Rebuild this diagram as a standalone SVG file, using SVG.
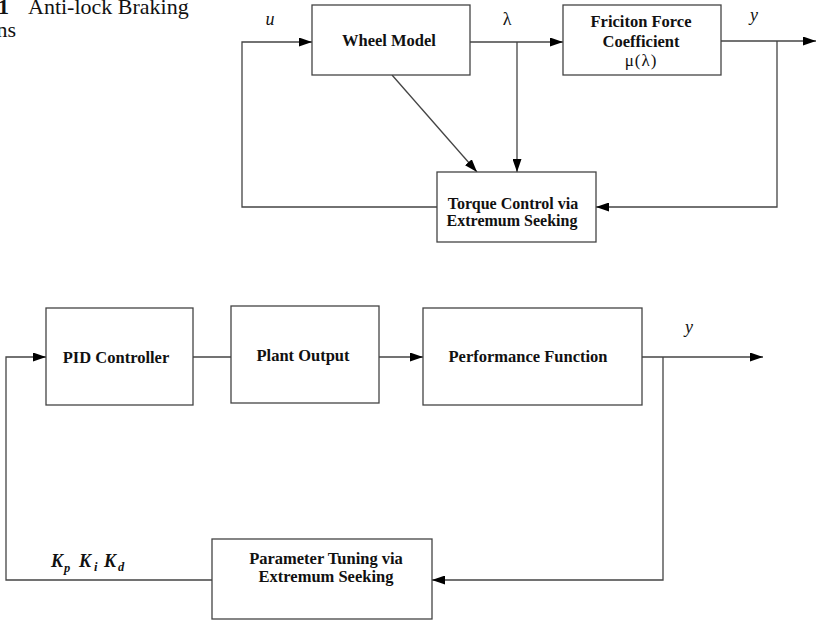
<svg xmlns="http://www.w3.org/2000/svg" width="818" height="621" viewBox="0 0 818 621">
<style>
.box{fill:#fff;stroke:#444;stroke-width:1.3}
.ln{fill:none;stroke:#444;stroke-width:1.3}
.t{font-family:"Liberation Serif","Times New Roman",serif;font-weight:bold;font-size:16.5px;fill:#111;text-anchor:middle}
.it{font-family:"Liberation Serif","Times New Roman",serif;font-style:italic;font-size:18px;fill:#111;text-anchor:middle}
.rm{font-family:"Liberation Serif","Times New Roman",serif;font-size:18px;fill:#111;text-anchor:middle}
.k{font-family:"Liberation Serif","Times New Roman",serif;font-weight:bold;font-style:italic;font-size:18px;fill:#111}
.ks{font-family:"Liberation Serif","Times New Roman",serif;font-weight:bold;font-style:italic;font-size:12.5px;fill:#111}
.cap{font-family:"Liberation Serif","Times New Roman",serif;font-size:22px;fill:#111}
</style>
<defs>
<marker id="ah" markerUnits="userSpaceOnUse" markerWidth="13" markerHeight="9" refX="13" refY="4.5" orient="auto">
<path d="M0,0 L13,4.5 L0,9 z" fill="#000"/>
</marker>
</defs>
<g id="caption">
<text class="cap" x="-2" y="14" style="font-weight:bold">1</text>
<text class="cap" x="28" y="14">Anti-lock Braking</text>
<text class="cap" x="16" y="37" text-anchor="end">ns</text>
</g>
<g id="connectors">
<path class="ln" d="M437,207 H242 V42 H312" marker-end="url(#ah)"/>
<path class="ln" d="M470,42 H563" marker-end="url(#ah)"/>
<path class="ln" d="M517,42 V172" marker-end="url(#ah)"/>
<path class="ln" d="M392,75 L477,172" marker-end="url(#ah)"/>
<path class="ln" d="M721,41 H816" marker-end="url(#ah)"/>
<path class="ln" d="M777,41 V207 H596" marker-end="url(#ah)"/>
<path class="ln" d="M212,580 H6 V357 H46" marker-end="url(#ah)"/>
<path class="ln" d="M193,357 H231"/>
<path class="ln" d="M379,357 H423" marker-end="url(#ah)"/>
<path class="ln" d="M642,357 H763" marker-end="url(#ah)"/>
<path class="ln" d="M663,357 V580 H432" marker-end="url(#ah)"/>
</g>
<g id="labels">
<text class="it" x="270" y="25">u</text>
<text class="rm" x="507" y="25">λ</text>
<text class="it" x="754" y="21">y</text>
<text class="it" x="689" y="333">y</text>
<text class="k" x="51" y="567">K</text><text class="ks" x="64" y="572">p</text>
<text class="k" x="79" y="567">K</text><text class="ks" x="94" y="571">i</text>
<text class="k" x="104" y="567">K</text><text class="ks" x="118" y="571">d</text>
</g>
<g id="wheel">
<rect class="box" x="312" y="5" width="158" height="70"/>
<text class="t" x="389" y="46">Wheel Model</text>
</g>
<g id="friction">
<rect class="box" x="563" y="5" width="158" height="70"/>
<text class="t" x="641" y="27">Friciton Force</text>
<text class="t" x="641" y="47">Coefficient</text>
<text class="rm" x="641" y="66" letter-spacing="1" style="font-size:17px">μ(λ)</text>
</g>
<g id="torque">
<rect class="box" x="437" y="172" width="159" height="70"/>
<text class="t" x="513" y="209" style="font-size:16px">Torque Control via</text>
<text class="t" x="512" y="226" style="font-size:16px">Extremum Seeking</text>
</g>
<g id="pid">
<rect class="box" x="46" y="308" width="147" height="97"/>
<text class="t" x="116" y="363">PID Controller</text>
</g>
<g id="plant">
<rect class="box" x="231" y="306" width="148" height="97"/>
<text class="t" x="303" y="361">Plant Output</text>
</g>
<g id="performance">
<rect class="box" x="423" y="308" width="219" height="97"/>
<text class="t" x="528" y="362">Performance Function</text>
</g>
<g id="tuning">
<rect class="box" x="212" y="539" width="220" height="80"/>
<text class="t" x="326" y="564">Parameter Tuning via</text>
<text class="t" x="326" y="582">Extremum Seeking</text>
</g>
</svg>
